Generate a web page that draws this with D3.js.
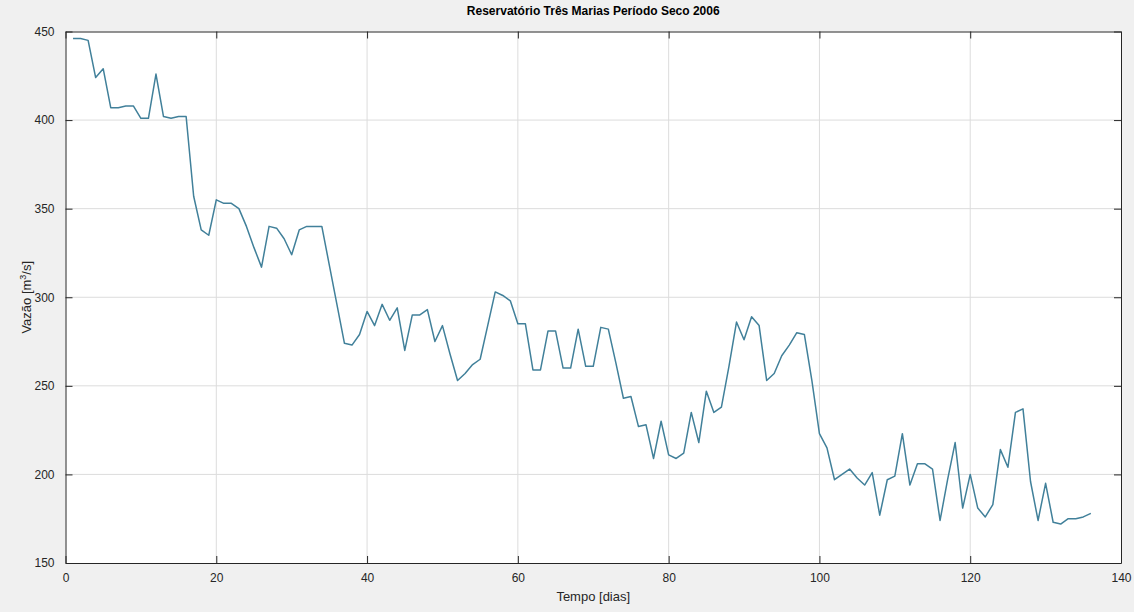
<!DOCTYPE html>
<html>
<head>
<meta charset="utf-8">
<script src="https://cdn.jsdelivr.net/npm/d3@7"></script>
<style>
  body { margin: 0; background: #f0f0f0; }
  svg { display: block; font-family: "Liberation Sans", Arial, sans-serif; }
  .grid line { stroke: #dcdcdc; stroke-width: 1; }
</style>
</head>
<body>
<div id="chart"></div>
<script>
  // daily flow, days 1..136
  const days = d3.range(1, 137);
  const flow = [
    446, 446, 445, 424, 429, 407, 407, 408, 408, 401,
    401, 426, 402, 401, 402, 402, 357, 338, 335, 355,
    353, 353, 350, 340, 328, 317, 340, 339, 333, 324,
    338, 340, 340, 340, 318, 296, 274, 273, 279, 292,
    284, 296, 287, 294, 270, 290, 290, 293, 275, 284,
    268, 253, 257, 262, 265, 284, 303, 301, 298, 285,
    285, 259, 259, 281, 281, 260, 260, 282, 261, 261,
    283, 282, 263, 243, 244, 227, 228, 209, 230, 211,
    209, 212, 235, 218, 247, 235, 238, 261, 286, 276,
    289, 284, 253, 257, 267, 273, 280, 279, 253, 223,
    215, 197, 200, 203, 198, 194, 201, 177, 197, 199,
    223, 194, 206, 206, 203, 174, 197, 218, 181, 200,
    181, 176, 183, 214, 204, 235, 237, 196, 174, 195,
    173, 172, 175, 175, 176, 178
  ];
  const xTicks = [0, 20, 40, 60, 80, 100, 120, 140];
  const yTicks = [150, 200, 250, 300, 350, 400, 450];

  const width = 1134;
  const height = 612;
  const margin = { top: 31.5, right: 13, bottom: 49, left: 65.5 };
  const innerW = width - margin.left - margin.right;
  const innerH = height - margin.top - margin.bottom;

  const svg = d3.select('#chart').append('svg')
    .attr('width', width)
    .attr('height', height);

  svg.append('rect')
    .attr('width', width).attr('height', height)
    .attr('fill', '#f0f0f0');

  const x = d3.scaleLinear().domain([0, 140]).range([0, innerW]);
  const y = d3.scaleLinear().domain([150, 450]).range([innerH, 0]);

  const g = svg.append('g')
    .attr('transform', `translate(${margin.left},${margin.top})`);

  g.append('rect')
    .attr('width', innerW).attr('height', innerH)
    .attr('fill', '#fff');

  // grid
  g.append('g').attr('class', 'grid')
    .selectAll('line').data(xTicks.slice(1, -1)).join('line')
    .attr('x1', d => x(d)).attr('x2', d => x(d))
    .attr('y1', 0).attr('y2', innerH);
  g.append('g').attr('class', 'grid')
    .selectAll('line').data(yTicks.slice(1, -1)).join('line')
    .attr('y1', d => y(d)).attr('y2', d => y(d))
    .attr('x1', 0).attr('x2', innerW);

  // the series
  const line = d3.line()
    .x((d, i) => x(days[i]))
    .y(d => y(d));
  g.append('path')
    .datum(flow)
    .attr('fill', 'none')
    .attr('stroke', '#41809a')
    .attr('stroke-width', 1.5)
    .attr('stroke-linejoin', 'round')
    .attr('d', line);

  // axes, ticks inward on all four sides like matlab
  const axisColor = '#262626';
  const tickLen = 7;
  function styleAxis(sel) {
    sel.select('.domain').attr('stroke', axisColor);
    sel.selectAll('.tick line').attr('stroke', axisColor);
    sel.selectAll('.tick text')
      .attr('fill', '#262626')
      .style('font-size', '12px');
  }

  g.append('g')
    .attr('transform', `translate(0,${innerH})`)
    .call(d3.axisBottom(x).tickValues(xTicks).tickSizeInner(-tickLen).tickSizeOuter(0).tickPadding(10))
    .call(styleAxis);
  g.append('g')
    .call(d3.axisTop(x).tickValues(xTicks).tickSizeInner(-tickLen).tickSizeOuter(0).tickFormat(''))
    .call(styleAxis);
  g.append('g')
    .call(d3.axisLeft(y).tickValues(yTicks).tickSizeInner(-tickLen).tickSizeOuter(0).tickPadding(11))
    .call(styleAxis);
  g.append('g')
    .attr('transform', `translate(${innerW},0)`)
    .call(d3.axisRight(y).tickValues(yTicks).tickSizeInner(-tickLen).tickSizeOuter(0).tickFormat(''))
    .call(styleAxis);

  // labels
  svg.append('text')
    .attr('x', margin.left + innerW / 2).attr('y', 15)
    .attr('text-anchor', 'middle')
    .style('font-size', '12px').style('font-weight', 'bold')
    .attr('fill', '#000')
    .text('Reservatório Três Marias Período Seco 2006');

  svg.append('text')
    .attr('x', margin.left + innerW / 2).attr('y', 601)
    .attr('text-anchor', 'middle')
    .style('font-size', '13px')
    .attr('fill', '#262626')
    .text('Tempo [dias]');

  const yl = svg.append('text')
    .attr('transform', `translate(31,${margin.top + innerH / 2}) rotate(-90)`)
    .attr('text-anchor', 'middle')
    .style('font-size', '13px')
    .attr('fill', '#262626');
  yl.append('tspan').text('Vazão [m');
  yl.append('tspan').attr('dy', -5).style('font-size', '9px').text('3');
  yl.append('tspan').attr('dy', 5).text('/s]');
</script>
</body>
</html>
